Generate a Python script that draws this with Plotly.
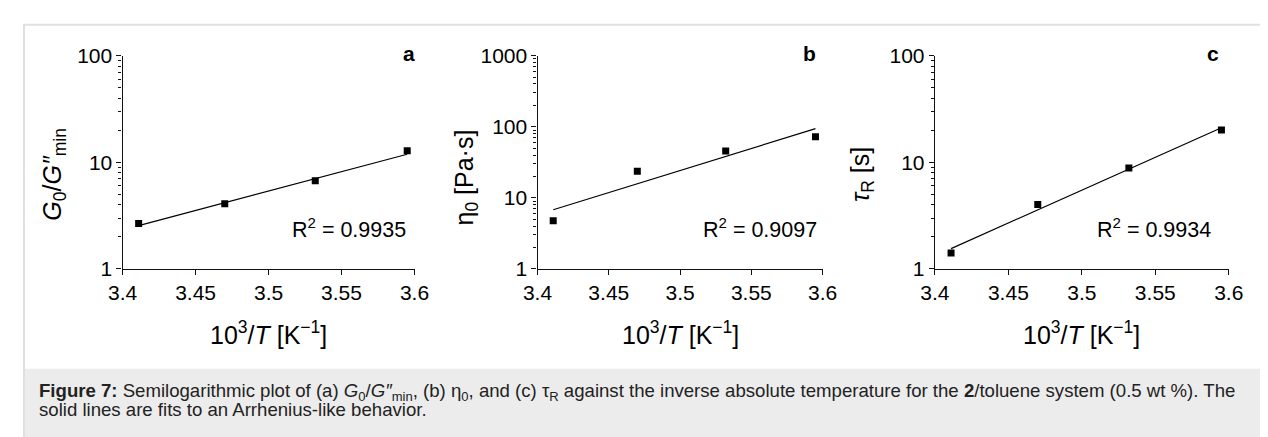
import plotly.graph_objects as go

# ---- data ----
inv_T = [3.411, 3.470, 3.532, 3.595]
g_ratio = [2.66, 4.08, 6.71, 12.8]
eta0 = [4.74, 23.6, 45.6, 72.2]
tau_R = [1.41, 4.02, 8.83, 20.1]

fit_x = [3.411, 3.595]
g_ratio_fit = [2.55, 11.9]
eta0_fit = [6.79, 94.0]
tau_R_fit = [1.55, 21.1]

r2_labels = ["R<sup>2</sup> = 0.9935", "R<sup>2</sup> = 0.9097", "R<sup>2</sup> = 0.9934"]
panel_letters = ["a", "b", "c"]
x_ticks = [3.4, 3.45, 3.5, 3.55, 3.6]
x_ticktext = ["3.4", "3.45", "3.5", "3.55", "3.6"]

W, H = 1268, 437
OFF = 8  # page body margin in the browser
FONT = "Liberation Sans, Arial, Helvetica, sans-serif"


def px_x(p):
    return (p - OFF) / W


def px_y(p):
    return 1 - (p - OFF) / H


panels = [
    dict(y=g_ratio, fit=g_ratio_fit, x0=110, x1=409, decades=2,
         title="<i>G</i><sub>0</sub>/<i>G″</i><sub>min</sub>", tx=40, ty=171,
         r2x=402, lx=403),
    dict(y=eta0, fit=eta0_fit, x0=535, x1=827, decades=3,
         title="η<sub>0</sub> [Pa·s]", tx=462, ty=174, r2x=823, lx=814),
    dict(y=tau_R, fit=tau_R_fit, x0=942, x1=1243, decades=2,
         title="<i>τ</i><sub>R</sub> [s]", tx=868, ty=171, r2x=1227, lx=1227),
]
top_px, bot_px = 45.7, 270.7

fig = go.Figure()
layout = {}
annotations = []
for i, p in enumerate(panels):
    k = "" if i == 0 else str(i + 1)
    xa, ya = "x" + k, "y" + k
    fig.add_trace(go.Scatter(x=fit_x, y=p["fit"], mode="lines", xaxis=xa, yaxis=ya,
                             line=dict(color="black", width=1.2), showlegend=False,
                             hoverinfo="skip"))
    fig.add_trace(go.Scatter(x=inv_T, y=p["y"], mode="markers", xaxis=xa, yaxis=ya,
                             marker=dict(symbol="square", size=7, color="black"),
                             showlegend=False))
    majors = [10 ** d for d in range(p["decades"] + 1)]
    minors = [m * 10 ** d for d in range(p["decades"]) for m in range(2, 10)]
    layout["xaxis" + k] = dict(
        domain=[px_x(p["x0"]), px_x(p["x1"])], anchor=ya, range=[3.4, 3.6],
        tickmode="array", tickvals=x_ticks, ticktext=x_ticktext,
        ticks="outside", ticklen=5, tickcolor="#111111", tickwidth=1,
        showline=True, linecolor="#111111", linewidth=1.3, showgrid=False,
        zeroline=False, tickfont=dict(size=21, color="black", family=FONT),
    )
    layout["yaxis" + k] = dict(
        domain=[px_y(bot_px), px_y(top_px)], anchor=xa, type="log",
        range=[0, p["decades"]], tickmode="array", tickvals=majors,
        ticktext=[str(v) for v in majors],
        ticks="outside", ticklen=5, tickcolor="#111111", tickwidth=1,
        minor=dict(tickvals=minors, ticks="outside", ticklen=3, tickcolor="#111111",
                   tickwidth=1, showgrid=False),
        showline=True, linecolor="#111111", linewidth=1.3, showgrid=False,
        zeroline=False, tickfont=dict(size=21, color="black", family=FONT),
    )
    annotations.append(dict(text=p["title"], textangle=-90, xref="paper", yref="paper",
                            x=px_x(p["tx"]), y=px_y(p["ty"]), showarrow=False,
                            xanchor="center", yanchor="middle",
                            font=dict(size=25, color="black", family=FONT)))
    annotations.append(dict(text="10<sup>3</sup>/<i>T</i> [K<sup>−1</sup>]", xref="paper",
                            yref="paper", x=px_x((p["x0"] + p["x1"]) / 2), y=px_y(338),
                            showarrow=False, xanchor="center", yanchor="middle",
                            font=dict(size=25, color="black", family=FONT)))
    annotations.append(dict(text=r2_labels[i], xref="paper", yref="paper",
                            x=px_x(p["r2x"]), y=px_y(228), showarrow=False,
                            xanchor="right", yanchor="middle",
                            font=dict(size=21.5, color="black", family=FONT)))
    annotations.append(dict(text="<b>" + panel_letters[i] + "</b>", xref="paper",
                            yref="paper", x=px_x(p["lx"]), y=px_y(43),
                            showarrow=False, xanchor="center", yanchor="middle",
                            font=dict(size=21, color="black", family=FONT)))

cap1 = ("<b>Figure 7:</b> Semilogarithmic plot of (a) <i>G</i><sub>0</sub>/<i>G″</i><sub>min</sub>, "
        "(b) η<sub>0</sub>, and (c) τ<sub>R</sub> against the inverse absolute temperature for the "
        "<b>2</b>/toluene system (0.5 wt %). The")
cap2 = "solid lines are fits to an Arrhenius-like behavior."
for txt, yy in [(cap1, 401), (cap2, 419.5)]:
    annotations.append(dict(text=txt, xref="paper", yref="paper", x=px_x(22.5), y=px_y(yy),
                            showarrow=False, xanchor="left", yanchor="middle",
                            align="left",
                            font=dict(size=18.6, color="#222222", family=FONT)))

shapes = [
    dict(type="rect", xref="paper", yref="paper", x0=0, x1=1, y0=-0.1, y1=px_y(376),
         fillcolor="#ececec", line=dict(width=0), layer="below"),
    dict(type="line", xref="paper", yref="paper", x0=0, x1=1, y0=px_y(13), y1=px_y(13),
         line=dict(color="#e0e0e0", width=2)),
    dict(type="line", xref="paper", yref="paper", x0=px_x(9), x1=px_x(9), y0=-0.1,
         y1=px_y(13), line=dict(color="#e0e0e0", width=2)),
]

fig.update_layout(
    width=W, height=H, margin=dict(l=0, r=0, t=0, b=0),
    paper_bgcolor="white", plot_bgcolor="rgba(0,0,0,0)",
    font=dict(family=FONT, color="black"),
    annotations=annotations, shapes=shapes, showlegend=False,
    **layout,
)
fig.write_html("out.html")
